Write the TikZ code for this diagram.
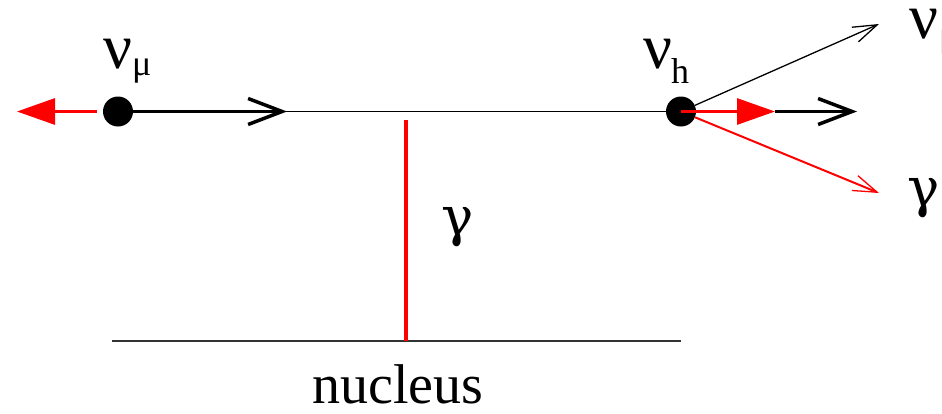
\documentclass[tikz,border=0pt]{standalone}
\usepackage{fontspec}
\setmainfont{Liberation Serif}
\newfontfamily\grk{DejaVu Serif}
\usetikzlibrary{arrows.meta}
\begin{document}
\begin{tikzpicture}[x=1pt,y=-1pt,
  vtx/.style={circle,fill=black,inner sep=0pt,minimum size=30pt},
  thinln/.style={line width=1.3pt,black},
  thickarr/.style={line width=3pt,black,-{Straight Barb[length=34pt,width=26pt,line width=3.5pt]}},
  thinarr/.style={line width=1.3pt,-{Straight Barb[length=24pt,width=16pt,line width=1.3pt]}},
  redtri/.style={line width=3pt,red,-{Triangle[length=38pt,width=26pt]}},
  lbl/.style={inner sep=0pt,font=\fontsize{56}{60}\selectfont},
  nulbl/.style={inner sep=0pt,font=\fontsize{64}{70}\selectfont},
  glbl/.style={inner sep=0pt,font=\grk\fontsize{54}{60}\selectfont},
  sub/.style={inner sep=0pt,font=\fontsize{36}{40}\selectfont}]
\useasboundingbox (0,0) rectangle (942,413);
\clip (0,0) rectangle (942,413);
% vertices
\node[vtx] (A) at (118,111.5) {};
\node[vtx] (B) at (681,111.5) {};
\coordinate (Lend) at (17,111.5);
\coordinate (Atip) at (287,111.5);
\coordinate (Rred) at (775,111.5);
\coordinate (Rtip) at (857,111.5);
\coordinate (Up) at (879,24);
\coordinate (Dn) at (879,193);
\coordinate (Gtop) at (406,120);
\coordinate (N1) at (112,341);
\coordinate (N2) at (681,341);
\coordinate (Gbot) at (406,341);
% main line
\draw[thinln] (A) -- (B);
\draw[thickarr] (A.east) -- (Atip);
\draw[redtri,shorten <=6pt] (A.west) -- (Lend);
% right side
\draw[thickarr] (Rred) -- (Rtip);
\draw[redtri] (B.center) -- (Rred);
\draw[thinarr,black] (B) -- (Up);
\draw[thinarr,red,line width=2pt] (B) -- (Dn);
% photon and nucleus
\draw[line width=1.3pt,black!80] (N1) -- (N2);
\draw[line width=4.5pt,red] (Gtop) -- (Gbot);
% labels
\node[nulbl,anchor=base] (nuA) at (117.5,68) {ν};
\node[sub,anchor=base west] (muA) at (132,75) {μ};
\node[nulbl,anchor=base] (nuB) at (657.5,68) {ν};
\node[sub,anchor=base west] (hB) at (671,83) {h};
\node[nulbl,anchor=base] (nuC) at (924,38) {ν};
\node[sub,anchor=base west] (muC) at (939,46) {μ};
\node[glbl,anchor=base] (gC) at (923.5,206) {γ};
\node[glbl,anchor=base] (gM) at (457.5,235) {γ};
\node[lbl,anchor=base,text depth=0pt] (nuc) at (398,403) {nucleus};
\end{tikzpicture}
\end{document}
